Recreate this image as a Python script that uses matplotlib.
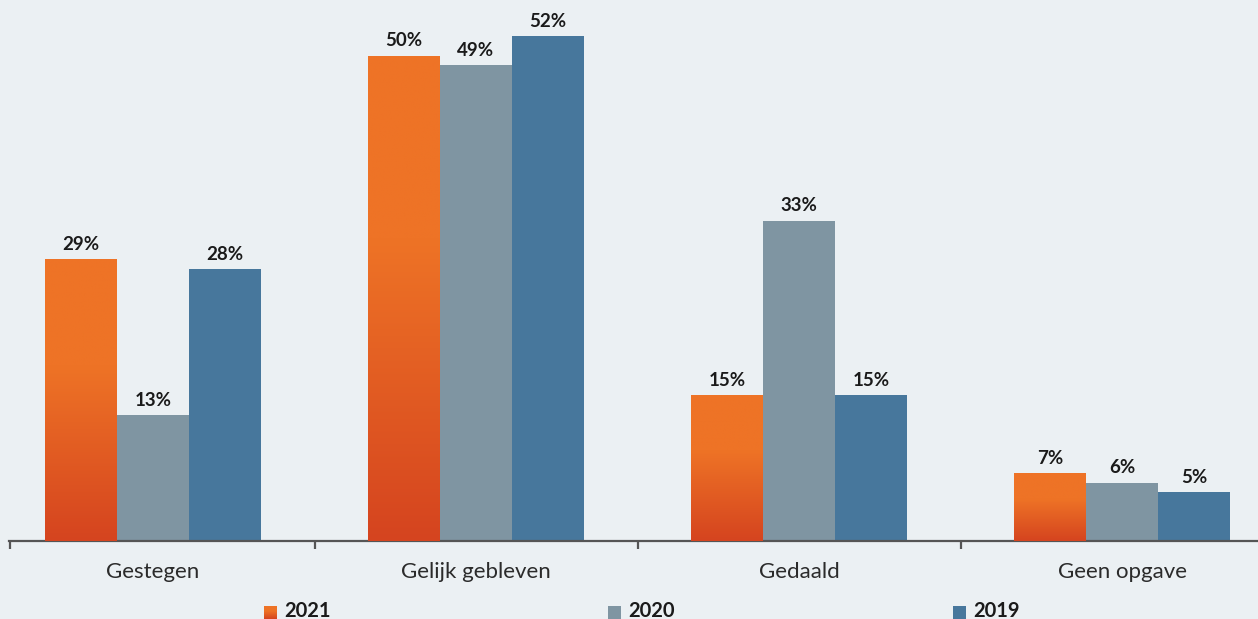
import numpy as np
import matplotlib
matplotlib.use("Agg")
import matplotlib.pyplot as plt
from matplotlib.colors import LinearSegmentedColormap
from matplotlib.patches import Rectangle

# Data
categories = ["Gestegen", "Gelijk gebleven", "Gedaald", "Geen opgave"]
years = ["2021", "2020", "2019"]
values_2021 = [29, 50, 15, 7]
values_2020 = [13, 49, 33, 6]
values_2019 = [28, 52, 15, 5]

BG = "#ebf0f3"
ORANGE_TOP = "#ee7326"
ORANGE_BOT = "#d5441f"
GREY = "#7f95a2"
BLUE = "#47779c"
AXIS = "#555555"

W, H = 1258, 619
fig = plt.figure(figsize=(W / 100, H / 100), dpi=100, facecolor=BG)
ax = fig.add_axes([9 / W, 78 / H, 1249 / W, 541 / H])
ax.set_facecolor(BG)

px_per_unit = 323.0
bar_w = 72 / px_per_unit
x = np.arange(len(categories))

ax.set_xlim(-144 / px_per_unit, 3 + 136 / px_per_unit)
ax.set_ylim(0, 541 / 9.71)

series = [values_2021, values_2020, values_2019]
colors = [ORANGE_TOP, GREY, BLUE]
offsets = [-bar_w, 0, bar_w]

orange_cmap = LinearSegmentedColormap.from_list(
    "orange_fade", [(0, ORANGE_BOT), (0.62, ORANGE_TOP), (1, ORANGE_TOP)])
grad = np.linspace(0, 1, 256).reshape(-1, 1)

for i, (vals, col, off) in enumerate(zip(series, colors, offsets)):
    bars = ax.bar(x + off, vals, width=bar_w, color=col, linewidth=0, zorder=2)
    for b, v in zip(bars, vals):
        if i == 0:
            x0 = b.get_x()
            im = ax.imshow(grad, cmap=orange_cmap, origin="lower", aspect="auto",
                           extent=(x0, x0 + b.get_width(), 0, v), zorder=3,
                           interpolation="bilinear")
            im.set_clip_path(b)
        ax.annotate(f"{v}%", (b.get_x() + b.get_width() / 2, v),
                    xytext=(0, 4.5), textcoords="offset points",
                    ha="center", va="bottom", fontsize=13.5,
                    fontweight="bold", family="Lato", color="#1a1a1a", zorder=4)

# Axes styling
for s in ["top", "right", "left"]:
    ax.spines[s].set_visible(False)
ax.spines["bottom"].set_color(AXIS)
ax.spines["bottom"].set_linewidth(1.6)
ax.set_yticks([])
ax.set_xticks(x)
ax.set_xticklabels(categories, fontsize=16, family="Lato", fontweight="normal",
                   color="#2b2b2b")
ax.tick_params(axis="x", which="major", length=0, pad=15)
ax.set_xticks([-144 / px_per_unit + 0.002, 0.5, 1.5, 2.5], minor=True)
ax.tick_params(axis="x", which="minor", length=6, width=1.6, color=AXIS,
               direction="out")

# Legend along the bottom edge
leg_x = [264, 608, 953]
leg_colors = [ORANGE_TOP, GREY, BLUE]
for lx, lc, yr in zip(leg_x, leg_colors, years):
    if yr == "2021":
        lg = fig.add_axes([lx / W, 0, 13 / W, 13 / H])
        lg.imshow(grad, cmap=orange_cmap, origin="lower", aspect="auto",
                  extent=(0, 1, 0, 1))
        lg.set_axis_off()
    else:
        fig.patches.append(Rectangle((lx / W, 0), 13 / W, 13 / H,
                                     transform=fig.transFigure,
                                     facecolor=lc, edgecolor="none"))
    fig.text((lx + 20) / W, 2 / H, yr, fontsize=14.5, fontweight="bold",
             family="Lato", color="#1a1a1a", ha="left", va="baseline")

fig.savefig("out.png", dpi=100, facecolor=BG)
